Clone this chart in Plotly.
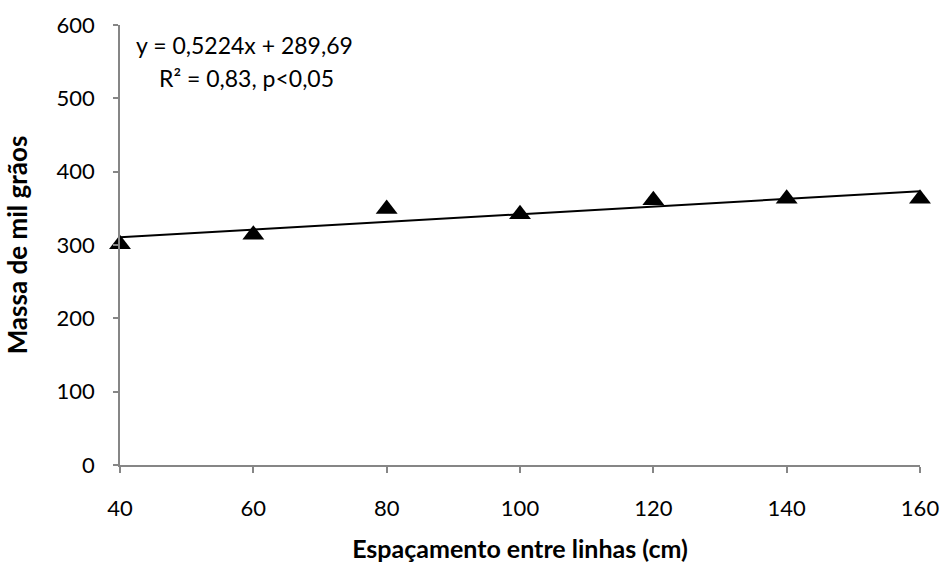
import plotly.graph_objects as go

spacing = [40, 60, 80, 100, 120, 140, 160]
mass = [301, 314, 349, 342, 361, 363, 363]
slope = 0.5224
intercept = 289.69
eq_text = "y = 0,5224x + 289,69"
r2_text = "R² = 0,83, p<0,05"
x_ticks = [40, 60, 80, 100, 120, 140, 160]
y_ticks = [0, 100, 200, 300, 400, 500, 600]

trend_x = [min(spacing), max(spacing)]
trend_y = [slope * v + intercept for v in trend_x]

FONT = "Lato"
AX = "#868686"

fig = go.Figure()
fig.add_trace(go.Scatter(x=trend_x, y=trend_y, mode="lines",
                         line=dict(color="black", width=2), showlegend=False,
                         hoverinfo="skip"))
fig.add_trace(go.Scatter(x=spacing, y=mass, mode="markers",
                         marker=dict(symbol="triangle-up", size=19, color="black"),
                         showlegend=False, cliponaxis=False))

fig.add_annotation(x=0.156, y=0.955, xref="paper", yref="paper", text=eq_text,
                   showarrow=False, xanchor="center", yanchor="middle",
                   font=dict(family=FONT, size=23, color="black"))
fig.add_annotation(x=0.158, y=0.88, xref="paper", yref="paper", text=r2_text,
                   showarrow=False, xanchor="center", yanchor="middle",
                   font=dict(family=FONT, size=23, color="black"))

fig.update_layout(
    width=943, height=564,
    margin=dict(l=120, r=23, t=25, b=99),
    plot_bgcolor="white", paper_bgcolor="white",
    font=dict(family=FONT, size=22, color="black"),
)
fig.update_xaxes(range=[40, 160], tickvals=x_ticks, showgrid=False, zeroline=False,
                 showline=True, linecolor=AX, linewidth=1.5, ticks="outside",
                 ticklen=6, tickcolor=AX, tickwidth=1.5, ticklabelstandoff=17,
                 ticklabeloverflow="allow", automargin=False,
                 tickfont=dict(family=FONT, size=22),
                 title=dict(text="<b>Espaçamento entre linhas (cm)</b>", standoff=20,
                            font=dict(family=FONT, size=25)))
fig.update_yaxes(range=[0, 600], tickvals=y_ticks, showgrid=False, zeroline=False,
                 showline=True, linecolor=AX, linewidth=1.5, ticks="outside",
                 ticklen=5, tickcolor=AX, tickwidth=1.5, ticklabelstandoff=14,
                 automargin=False,
                 tickfont=dict(family=FONT, size=22),
                 title=dict(text="<b>Massa de mil grãos</b>", standoff=21,
                            font=dict(family=FONT, size=26)))

fig.write_html("out.html")
